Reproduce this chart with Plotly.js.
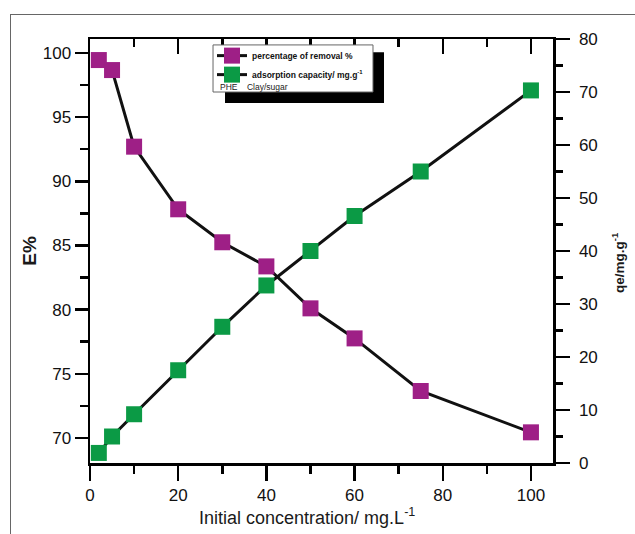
<!DOCTYPE html>
<html>
<head>
<meta charset="utf-8">
<script src="https://cdn.plot.ly/plotly-3.0.1.min.js"></script>
<style>
html,body{margin:0;padding:0;background:#fff;}
#wrap{position:relative;width:635px;height:534px;overflow:hidden;}
#chart{position:absolute;left:0;top:0;width:635px;height:534px;}
#frame{position:absolute;left:10px;top:14px;width:700px;height:600px;border-left:1px solid #666;border-top:1px solid #666;pointer-events:none;}
</style>
</head>
<body>
<div id="wrap"><div id="chart"></div><div id="frame"></div></div>
<script>
// Data
const concentration = [2, 5, 10, 20, 30, 40, 50, 60, 75, 100];
const removalPercent = [99.45, 98.67, 92.7, 87.82, 85.25, 83.37, 80.1, 77.76, 73.66, 70.44];
const adsorptionCapacity = [1.9, 5.0, 9.2, 17.5, 25.7, 33.5, 40.0, 46.6, 55.0, 70.3];
const seriesNames = ["percentage of removal %", "adsorption capacity/ mg.g<sup>-1</sup>"];
const noteText = "PHE\u00a0\u00a0\u00a0\u00a0Clay/sugar";
const xTitle = "Initial concentration/ mg.L<sup>-1</sup>";
const yTitle = "E%";
const y2Title = "qe/mg.g<sup>-1</sup>";

const purple = "#9E1F86";
const green = "#0B9A45";
const font = "Liberation Sans, Arial, sans-serif";

const traces = [
  {
    x: concentration, y: removalPercent, name: seriesNames[0],
    type: "scatter", mode: "lines+markers",
    line: {color: "#111", width: 3},
    marker: {symbol: "square", size: 16, color: purple},
    xaxis: "x", yaxis: "y"
  },
  {
    x: concentration, y: adsorptionCapacity, name: seriesNames[1],
    type: "scatter", mode: "lines+markers",
    line: {color: "#111", width: 3},
    marker: {symbol: "square", size: 16, color: green},
    xaxis: "x2", yaxis: "y2"
  }
];

const axisCommon = {
  showline: true, linecolor: "#000", linewidth: 2.5,
  showgrid: false, zeroline: false,
  tickcolor: "#000", tickwidth: 2.5,
  tickfont: {family: font, size: 17, color: "#111"}
};

const layout = {
  width: 635, height: 534,
  margin: {l: 90, r: 82, t: 39, b: 71, pad: 0},
  paper_bgcolor: "#fff", plot_bgcolor: "#fff",
  showlegend: true,
  legend: {
    x: 0.2635, y: 0.995, xanchor: "left", yanchor: "top",
    bgcolor: "rgba(0,0,0,0)", borderwidth: 0,
    font: {family: font, size: 8.5, color: "#111", weight: "bold"},
    traceorder: "normal", itemwidth: 30, tracegroupgap: 0
  },
  xaxis: Object.assign({}, axisCommon, {
    range: [0, 105], tick0: 0, dtick: 20,
    ticks: "outside", ticklen: 15,
    minor: {ticks: "outside", tick0: 0, dtick: 10, ticklen: 8, tickwidth: 2.5, tickcolor: "#000"},
    automargin: false
  }),
  xaxis2: Object.assign({}, axisCommon, {
    range: [0, 105], tick0: 0, dtick: 20,
    overlaying: "x", side: "top", anchor: "y",
    ticks: "inside", ticklen: 15, showticklabels: false,
    minor: {ticks: "inside", tick0: 0, dtick: 10, ticklen: 8, tickwidth: 2.5, tickcolor: "#000"},
    automargin: false
  }),
  yaxis: Object.assign({}, axisCommon, {
    range: [68.05, 101.09], tick0: 70, dtick: 5,
    ticks: "outside", ticklen: 13,
    minor: {ticks: "outside", tick0: 70, dtick: 2.5, ticklen: 8, tickwidth: 2.5, tickcolor: "#000"},
    title: {text: yTitle, font: {family: font, size: 19, color: "#1a1a1a", weight: "bold"}, standoff: 1},
    automargin: false
  }),
  yaxis2: Object.assign({}, axisCommon, {
    range: [0, 80], tick0: 0, dtick: 10,
    overlaying: "y", side: "right", anchor: "x2",
    ticks: "outside", ticklen: 14, ticklabelstandoff: 6,
    minor: {ticks: "outside", tick0: 0, dtick: 5, ticklen: 7, tickwidth: 2.5, tickcolor: "#000"},
    automargin: false
  }),
  shapes: [
    {type: "rect", xref: "paper", yref: "paper", x0: 0.2916, x1: 0.635, y0: 0.849, y1: 0.969,
     fillcolor: "#000", line: {width: 0}, layer: "above"},
    {type: "rect", xref: "paper", yref: "paper", x0: 0.2657, x1: 0.6112, y0: 0.875, y1: 0.986,
     fillcolor: "#fff", line: {width: 1, color: "#666"}, layer: "above"}
  ],
  annotations: [
    {text: noteText, xref: "paper", yref: "paper", x: 0.2765, y: 0.887,
     xanchor: "left", yanchor: "middle", showarrow: false,
     font: {family: font, size: 8.5, color: "#222"}},
    {text: xTitle, xref: "paper", yref: "paper", x: 0.4687, y: -0.125,
     xanchor: "center", yanchor: "middle", showarrow: false,
     font: {family: font, size: 18, color: "#1a1a1a"}},
    {text: y2Title, xref: "paper", yref: "paper", x: 1.1404, y: 0.4717, textangle: -90,
     xanchor: "center", yanchor: "middle", showarrow: false,
     font: {family: font, size: 13.5, color: "#1a1a1a", weight: "bold"}}
  ]
};

Plotly.newPlot("chart", traces, layout, {displayModeBar: false, staticPlot: true});
</script>
</body>
</html>
